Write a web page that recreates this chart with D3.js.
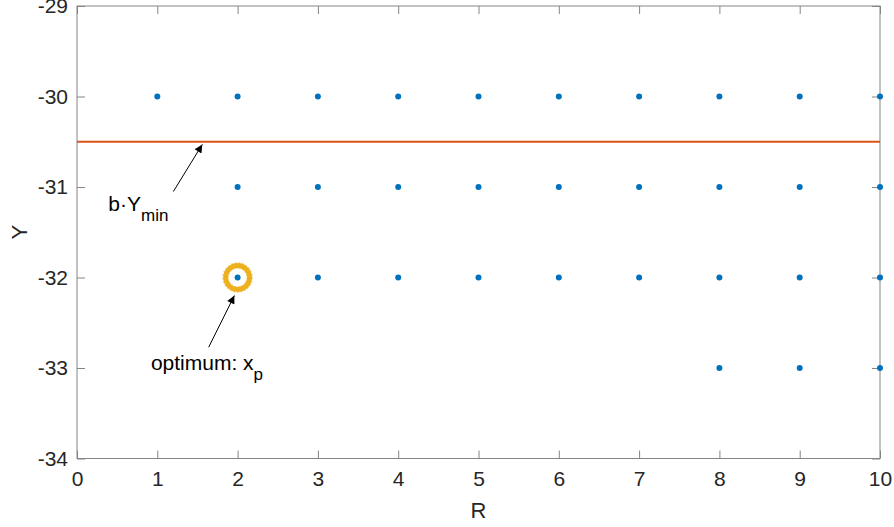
<!DOCTYPE html>
<html><head><meta charset="utf-8">
<script src="https://cdn.jsdelivr.net/npm/d3@7"></script>
<style>body{margin:0;background:#fff}text{font-family:"Liberation Sans",Arial,sans-serif;fill:#262626}</style>
</head><body><svg id="c" width="894" height="527"></svg>
<script>
const xTicks = [0,1,2,3,4,5,6,7,8,9,10];
const yTicks = [-34,-33,-32,-31,-30,-29];
const pointsR = [1,2,3,4,5,6,7,8,9,10, 2,3,4,5,6,7,8,9,10, 2,3,4,5,6,7,8,9,10, 8,9,10];
const pointsY = [-30,-30,-30,-30,-30,-30,-30,-30,-30,-30, -31,-31,-31,-31,-31,-31,-31,-31,-31, -32,-32,-32,-32,-32,-32,-32,-32,-32, -33,-33,-33];
const bYmin = -30.5;
const optimum = [2, -32];
const annotations = [
  {label:"b·Y", sub:"min", text:[0.39,-31.26], tail:[1.2,-31.05], head:[1.56,-30.53]},
  {label:"optimum: x", sub:"p", text:[0.92,-33.02], tail:[1.64,-32.77], head:[1.96,-32.2]}
];

const svg = d3.select("#c");
const L=77, R=880, T=6, B=458.5;
const x = d3.scaleLinear().domain([0,10]).range([L,R]);
const y = d3.scaleLinear().domain([-34,-29]).range([B,T]);
const axisColor = "#858585";
const fs = "21px";

svg.append("rect").attr("x",L).attr("y",T).attr("width",R-L).attr("height",B-T)
  .attr("fill","none").attr("stroke",axisColor).attr("stroke-width",1);

function styleAxis(g){
  g.select(".domain").remove();
  g.selectAll("line").attr("stroke",axisColor);
  g.selectAll("text").attr("fill","#262626").style("font-size",fs).style("font-family","Liberation Sans, Arial, sans-serif");
}
svg.append("g").attr("transform",`translate(0,${B})`)
  .call(d3.axisBottom(x).tickValues(xTicks).tickSizeInner(-8).tickSizeOuter(0).tickPadding(13).tickFormat(d3.format("d")))
  .call(styleAxis);
svg.append("g").attr("transform",`translate(0,${T})`)
  .call(d3.axisTop(x).tickValues(xTicks).tickSizeInner(-8).tickSizeOuter(0).tickFormat(""))
  .call(styleAxis);
svg.append("g").attr("transform",`translate(${L},0)`)
  .call(d3.axisLeft(y).tickValues(yTicks).tickSizeInner(-8).tickSizeOuter(0).tickPadding(9).tickFormat(d3.format("d")))
  .call(styleAxis);
svg.append("g").attr("transform",`translate(${R},0)`)
  .call(d3.axisRight(y).tickValues(yTicks).tickSizeInner(-8).tickSizeOuter(0).tickFormat(""))
  .call(styleAxis);
svg.selectAll(".tick text").text(function(){return d3.select(this).text().replace("−","-");});

svg.append("text").attr("x",(L+R)/2).attr("y",518).attr("text-anchor","middle").style("font-size","22px").text("R");
svg.append("text").attr("transform",`translate(27,${(T+B)/2}) rotate(-90)`).attr("text-anchor","middle").style("font-size","22px").text("Y");

svg.append("line").attr("x1",x(0)).attr("x2",x(10)).attr("y1",y(bYmin)).attr("y2",y(bYmin))
  .attr("stroke","#D95319").attr("stroke-width",2);

const cx = x(optimum[0]), cy = y(optimum[1]);
svg.append("circle").attr("cx",cx).attr("cy",cy).attr("r",12)
  .attr("fill","none").attr("stroke","#EDB120").attr("stroke-width",5);
svg.append("circle").attr("cx",cx).attr("cy",cy).attr("r",14.8)
  .attr("fill","none").attr("stroke","#EDB120").attr("stroke-width",1).attr("stroke-dasharray","1.2,2.5");
svg.append("circle").attr("cx",cx).attr("cy",cy).attr("r",9.2)
  .attr("fill","none").attr("stroke","#EDB120").attr("stroke-width",0.8).attr("stroke-dasharray","1.2,2");

svg.append("g").selectAll("circle").data(pointsR.map((r,i)=>[r,pointsY[i]])).join("circle")
  .attr("cx",d=>x(d[0])).attr("cy",d=>y(d[1])).attr("r",3).attr("fill","#0072BD");

svg.append("defs").append("marker").attr("id","ah").attr("viewBox","0 0 10 10")
  .attr("refX",10).attr("refY",5).attr("markerWidth",11).attr("markerHeight",8)
  .attr("markerUnits","userSpaceOnUse").attr("orient","auto")
  .append("path").attr("d","M0,0 L10,5 L0,10 z").attr("fill","#000");
annotations.forEach(a=>{
  svg.append("line").attr("x1",x(a.tail[0])).attr("y1",y(a.tail[1])).attr("x2",x(a.head[0])).attr("y2",y(a.head[1]))
    .attr("stroke","#000").attr("stroke-width",1).attr("marker-end","url(#ah)");
  const t = svg.append("text").attr("x",x(a.text[0])).attr("y",y(a.text[1])).style("font-size","21px").style("fill","#000");
  t.append("tspan").text(a.label);
  t.append("tspan").attr("dy",10).style("font-size","17px").text(a.sub);
});
</script></body></html>
